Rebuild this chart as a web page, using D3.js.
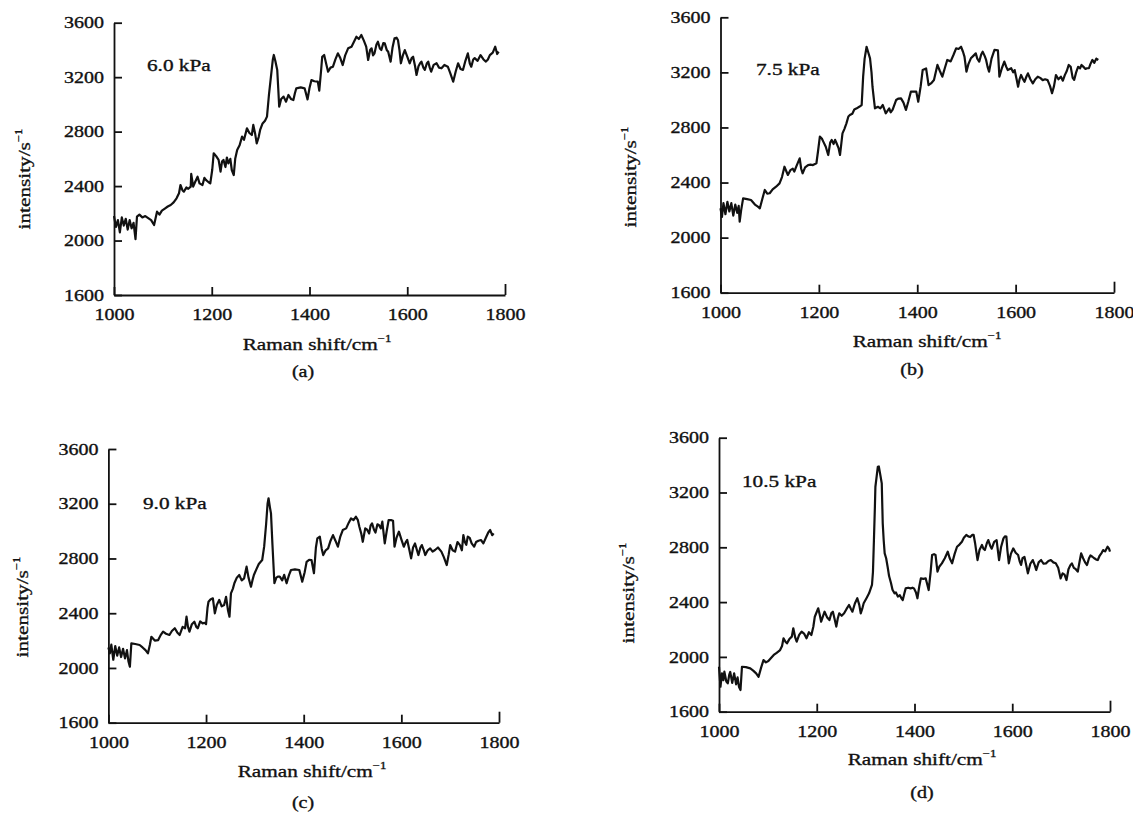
<!DOCTYPE html>
<html>
<head>
<meta charset="utf-8">
<script src="https://cdn.jsdelivr.net/npm/d3@7/dist/d3.min.js"></script>
<style>
  html, body { margin: 0; padding: 0; background: #fff; }
  svg { display: block; }
  text { font-family: "Liberation Serif", "Times New Roman", serif; fill: #111; stroke: #111; stroke-width: 0.35px; }
</style>
</head>
<body>
<div id="chart"></div>
<script>
// ---------- data ----------
const xTicks = [1000, 1200, 1400, 1600, 1800];
const yTicks = [1600, 2000, 2400, 2800, 3200, 3600];
const pressureLabels = ["6.0 kPa", "7.5 kPa", "9.0 kPa", "10.5 kPa"];
const panelLabels = ["(a)", "(b)", "(c)", "(d)"];
const xTitle = "Raman shift/cm";
const yTitle = "intensity/s";

const shiftA = [1000,1004,1008,1012,1016,1020,1024,1028,1032,1036,1040,1044,1047,1052,1058,1064,1070,1076,1082,1088,1093,1098,1104,1110,1116,1122,1128,1133,1136,1140,1143,1148,1152,1157,1158,1162,1166,1171,1175,1181,1185,1188,1193,1197,1201,1204,1209,1214,1218,1221,1224,1228,1231,1234,1238,1241,1245,1248,1252,1257,1262,1266,1272,1277,1282,1285,1289,1292,1296,1299,1304,1309,1313,1317,1321,1325,1327,1330,1334,1336,1338,1342,1347,1352,1357,1362,1367,1370,1373,1382,1390,1396,1400,1404,1410,1417,1420,1424,1426,1430,1434,1438,1443,1448,1453,1458,1463,1468,1473,1479,1486,1491,1496,1501,1506,1511,1516,1520,1524,1527,1530,1533,1537,1540,1544,1547,1551,1554,1558,1561,1566,1570,1574,1578,1581,1584,1587,1591,1595,1600,1605,1609,1612,1616,1619,1623,1626,1629,1633,1636,1640,1643,1646,1649,1654,1660,1665,1670,1676,1683,1688,1694,1699,1704,1709,1714,1719,1724,1728,1731,1735,1738,1744,1750,1756,1761,1765,1769,1775,1780,1784,1787];
const intensityA = [2180,2100,2150,2060,2170,2110,2160,2080,2150,2090,2130,2010,2175,2190,2170,2180,2165,2150,2114,2212,2190,2220,2235,2250,2261,2280,2310,2347,2408,2370,2359,2390,2380,2396,2489,2396,2430,2469,2420,2408,2460,2445,2430,2420,2520,2641,2620,2592,2506,2580,2592,2540,2610,2567,2600,2518,2481,2600,2665,2700,2763,2740,2824,2790,2775,2849,2780,2714,2760,2812,2860,2880,2910,3069,3200,3330,3363,3320,3253,3120,2983,3040,3057,3020,3069,3040,3032,3080,3118,3125,3118,3037,3120,3179,3170,3167,3101,3260,3350,3363,3300,3240,3270,3277,3330,3375,3340,3289,3360,3412,3424,3460,3497,3480,3510,3470,3424,3326,3400,3412,3360,3375,3440,3460,3410,3399,3450,3448,3400,3387,3314,3420,3485,3490,3473,3400,3302,3360,3399,3350,3302,3340,3350,3280,3216,3280,3300,3314,3270,3253,3300,3314,3270,3240,3290,3302,3270,3265,3290,3277,3230,3167,3240,3302,3260,3253,3320,3375,3300,3277,3330,3340,3320,3362,3330,3314,3330,3362,3380,3424,3370,3387];

const shiftB = [1000,1003,1006,1010,1014,1018,1022,1026,1030,1034,1037,1039,1042,1046,1054,1062,1070,1076,1080,1085,1090,1095,1100,1106,1113,1120,1125,1130,1134,1137,1142,1147,1150,1154,1161,1164,1167,1172,1178,1183,1188,1195,1198,1202,1206,1209,1214,1219,1223,1226,1230,1233,1236,1240,1243,1248,1252,1256,1260,1263,1268,1272,1277,1282,1287,1290,1293,1297,1300,1304,1307,1309,1312,1314,1320,1325,1330,1336,1343,1346,1350,1357,1362,1367,1372,1377,1382,1387,1392,1398,1402,1407,1411,1418,1423,1428,1434,1441,1446,1451,1456,1461,1468,1474,1479,1484,1489,1493,1496,1500,1504,1509,1514,1519,1522,1526,1530,1533,1537,1540,1543,1546,1551,1557,1564,1567,1572,1577,1581,1584,1591,1595,1598,1602,1605,1608,1611,1615,1618,1622,1625,1630,1635,1640,1645,1650,1655,1660,1665,1670,1674,1678,1682,1687,1692,1696,1700,1704,1708,1712,1716,1719,1723,1727,1731,1734,1738,1742,1745,1749,1752,1756,1760,1764,1768];
const intensityB = [2213,2150,2250,2170,2260,2190,2250,2160,2240,2180,2230,2116,2200,2285,2280,2273,2240,2225,2213,2280,2346,2320,2322,2350,2370,2394,2440,2515,2480,2455,2490,2500,2480,2515,2576,2500,2467,2510,2527,2530,2527,2540,2620,2733,2720,2697,2660,2600,2690,2709,2680,2710,2685,2650,2600,2757,2790,2830,2880,2890,2900,2930,2939,2950,2963,3169,3300,3386,3350,3302,3200,3096,3000,2939,2950,2939,2963,2903,2939,2910,2930,2999,3010,3011,2980,2927,2990,3060,3060,3060,2987,3100,3217,3229,3108,3120,3144,3254,3210,3169,3230,3290,3280,3330,3375,3370,3386,3350,3314,3205,3260,3302,3320,3338,3300,3278,3330,3350,3320,3290,3240,3205,3300,3363,3360,3169,3230,3278,3240,3217,3230,3200,3217,3150,3096,3150,3181,3150,3132,3170,3193,3150,3120,3150,3169,3160,3144,3150,3144,3100,3048,3100,3181,3150,3169,3140,3180,3210,3254,3240,3160,3145,3200,3240,3230,3254,3240,3225,3230,3230,3260,3290,3270,3300,3290];

const shiftC = [1000,1003,1006,1010,1014,1018,1022,1026,1030,1034,1038,1041,1044,1047,1055,1064,1070,1076,1081,1085,1088,1095,1102,1107,1112,1118,1125,1130,1136,1141,1146,1152,1157,1160,1163,1166,1171,1176,1180,1183,1188,1193,1197,1200,1203,1205,1209,1214,1218,1222,1227,1232,1237,1241,1245,1248,1251,1255,1258,1263,1268,1273,1278,1283,1287,1292,1295,1298,1303,1308,1315,1319,1323,1326,1328,1331,1333,1336,1340,1344,1347,1351,1356,1360,1365,1370,1374,1382,1391,1397,1402,1406,1411,1416,1421,1425,1428,1433,1437,1440,1445,1450,1455,1460,1465,1470,1475,1480,1487,1492,1497,1502,1507,1511,1514,1518,1521,1526,1530,1534,1537,1540,1544,1547,1551,1554,1558,1561,1566,1570,1574,1579,1583,1586,1590,1595,1600,1605,1609,1612,1616,1620,1624,1628,1632,1635,1639,1642,1646,1649,1654,1659,1664,1669,1675,1682,1687,1693,1697,1700,1705,1710,1715,1720,1724,1727,1730,1733,1736,1740,1744,1749,1753,1758,1763,1768,1774,1778,1782,1786,1789];
const intensityC = [2150,2107,2170,2060,2160,2090,2150,2080,2140,2070,2130,2050,2009,2180,2175,2168,2150,2130,2107,2170,2228,2200,2204,2240,2265,2250,2241,2270,2290,2260,2241,2300,2290,2375,2300,2265,2320,2338,2300,2290,2340,2326,2330,2320,2440,2484,2500,2509,2399,2460,2497,2450,2460,2520,2420,2375,2545,2580,2619,2660,2679,2640,2655,2740,2660,2594,2640,2679,2720,2760,2789,2886,3050,3200,3240,3170,3130,2900,2619,2660,2667,2667,2640,2680,2619,2680,2716,2720,2716,2631,2700,2776,2790,2789,2692,2880,2947,2959,2870,2825,2860,2874,2930,2971,2930,2886,2960,3008,3020,3060,3093,3080,3105,3080,3032,2980,2922,3020,3010,2983,3040,3057,3010,2990,3050,3045,3020,3069,2910,3000,3081,3080,3076,2886,2950,2996,2940,2886,2920,2935,2870,2801,2880,2910,2860,2825,2880,2898,2860,2825,2860,2874,2850,2862,2880,2850,2810,2752,2830,2898,2860,2850,2920,2898,2860,2971,2920,2900,2960,2950,2910,2886,2920,2930,2935,2910,2959,2990,3008,2970,2984];

const shiftD = [1000,1003,1006,1009,1011,1015,1018,1021,1023,1027,1031,1035,1038,1041,1044,1047,1055,1064,1070,1076,1081,1086,1091,1096,1101,1106,1112,1118,1125,1129,1132,1136,1139,1144,1149,1152,1156,1159,1164,1169,1174,1179,1184,1189,1193,1196,1203,1206,1209,1213,1216,1221,1226,1230,1233,1237,1240,1243,1246,1251,1256,1261,1266,1270,1273,1278,1283,1287,1290,1293,1296,1302,1307,1313,1315,1317,1319,1320,1323,1325,1327,1330,1333,1335,1337,1339,1342,1345,1348,1352,1355,1359,1362,1366,1370,1373,1376,1379,1382,1387,1392,1396,1399,1403,1406,1410,1413,1418,1423,1426,1429,1433,1436,1440,1443,1447,1451,1456,1462,1468,1472,1477,1482,1487,1492,1497,1501,1506,1510,1514,1518,1521,1524,1526,1529,1533,1538,1541,1544,1548,1551,1555,1558,1563,1568,1573,1577,1582,1585,1588,1590,1593,1597,1602,1607,1612,1615,1618,1621,1625,1628,1632,1637,1642,1646,1649,1654,1659,1664,1669,1674,1679,1684,1689,1694,1699,1703,1707,1711,1715,1719,1722,1726,1730,1734,1738,1741,1745,1749,1753,1757,1760,1764,1768,1772,1775,1779,1783,1786,1790,1795,1798,1800];
const intensityD = [1928,1782,1880,1830,1892,1820,1807,1870,1890,1810,1880,1800,1850,1780,1758,1928,1925,1916,1900,1880,1855,1920,1977,1960,1970,1990,2014,2030,2050,2080,2136,2110,2099,2130,2148,2209,2140,2111,2160,2185,2170,2136,2180,2160,2220,2293,2355,2310,2257,2300,2330,2290,2269,2320,2330,2270,2221,2280,2318,2300,2318,2350,2379,2350,2330,2390,2428,2380,2318,2350,2391,2430,2464,2525,2620,2853,3100,3242,3330,3388,3390,3330,3267,2975,2850,2756,2720,2658,2590,2537,2490,2464,2470,2440,2450,2430,2415,2460,2500,2505,2500,2505,2500,2470,2428,2520,2573,2570,2573,2530,2488,2620,2744,2750,2744,2622,2660,2683,2720,2768,2720,2683,2750,2804,2820,2841,2870,2890,2880,2875,2890,2890,2830,2780,2707,2780,2817,2790,2780,2830,2853,2810,2790,2840,2853,2707,2800,2865,2880,2878,2780,2683,2750,2792,2760,2744,2700,2671,2720,2730,2680,2610,2680,2707,2670,2634,2690,2707,2680,2683,2700,2707,2690,2683,2650,2573,2610,2600,2561,2640,2670,2683,2650,2640,2622,2700,2756,2720,2690,2671,2720,2740,2731,2720,2710,2707,2740,2760,2780,2770,2804,2790,2768];

const spectra = [
  {shift: shiftA, intensity: intensityA},
  {shift: shiftB, intensity: intensityB},
  {shift: shiftC, intensity: intensityC},
  {shift: shiftD, intensity: intensityD}
];

// ---------- layout ----------
const W = 1133, H = 813;
const STRETCH = 1.25;
const layout = [
  {left:114,   right:505,  top:22.7,  bottom:295,   ylabX:30,  ylabY:179, titleX:317, titleY:350, capX:303, capY:377, pX:147, pY:70.7},
  {left:720.5, right:1114, top:17.3,  bottom:292.7, ylabX:636, ylabY:177, titleX:927, titleY:347, capX:912, capY:375, pX:756, pY:75},
  {left:108.4, right:499,  top:449,   bottom:722.7, ylabX:28,  ylabY:607, titleX:312, titleY:777, capX:303, capY:808, pX:143, pY:509},
  {left:719,   right:1110, top:437.7, bottom:711.7, ylabX:634, ylabY:593, titleX:922, titleY:765, capX:922, capY:798, pX:742, pY:487}
];

const svg = d3.select("#chart").append("svg")
  .attr("width", W).attr("height", H)
  .attr("viewBox", `0 0 ${W} ${H}`);
svg.append("rect").attr("width", W).attr("height", H).attr("fill", "#fff");

function label(g, x, y, txt, size, anchor, rotate, sup) {
  const t = g.append("g")
    .attr("transform", `translate(${x},${y})` + (rotate ? ` rotate(${rotate})` : "") + ` scale(${STRETCH},1)`)
    .append("text")
    .attr("text-anchor", anchor)
    .attr("font-size", size)
    .text(txt);
  if (sup) {
    t.append("tspan").attr("font-size", size * 0.6).attr("dy", -size * 0.45).text(sup);
  }
  return t;
}

layout.forEach((L, i) => {
  const d = spectra[i];
  const x = d3.scaleLinear().domain([xTicks[0], xTicks[xTicks.length - 1]]).range([L.left, L.right]);
  const y = d3.scaleLinear().domain([yTicks[0], yTicks[yTicks.length - 1]]).range([L.bottom, L.top]);
  const g = svg.append("g");

  const yAxis = d3.axisLeft(y).tickValues(yTicks).tickSize(-8).tickSizeOuter(0).tickPadding(8).tickFormat(d3.format("d"));
  const xAxis = d3.axisBottom(x).tickValues(xTicks).tickSize(-8).tickSizeOuter(0).tickPadding(14).tickFormat(d3.format("d"));

  const gy = g.append("g").attr("transform", `translate(${L.left},0)`).call(yAxis);
  const gx = g.append("g").attr("transform", `translate(0,${L.bottom})`).call(xAxis);
  [gy, gx].forEach(a => {
    a.select(".domain").attr("stroke", "#111").attr("stroke-width", 1.8);
    a.selectAll(".tick line").attr("stroke", "#111").attr("stroke-width", 1.8);
    a.selectAll(".tick text")
      .attr("font-family", '"Liberation Serif", "Times New Roman", serif')
      .attr("font-size", 16).attr("fill", "#111")
      .attr("stroke", "#111").attr("stroke-width", 0.35);
  });
  gy.selectAll(".tick text").attr("transform", `scale(${STRETCH},1)`);
  gx.selectAll(".tick text").attr("transform", `scale(${STRETCH},1)`);
  gx.selectAll(".tick").filter(v => v === xTicks[xTicks.length - 1]).select("line").attr("y2", -11);

  const line = d3.line().x((s) => x(s)).y((s, k) => y(d.intensity[k]));
  g.append("path")
    .datum(d.shift)
    .attr("fill", "none")
    .attr("stroke", "#111")
    .attr("stroke-width", 2.2)
    .attr("stroke-linejoin", "round")
    .attr("d", line);

  label(g, L.pX, L.pY, pressureLabels[i], 17, "start");
  label(g, L.titleX, L.titleY, xTitle, 17, "middle", 0, "\u22121");
  label(g, L.ylabX, L.ylabY, yTitle, 17, "middle", -90, "\u22121");
  label(g, L.capX, L.capY, panelLabels[i], 16, "middle");
});
</script>
</body>
</html>
